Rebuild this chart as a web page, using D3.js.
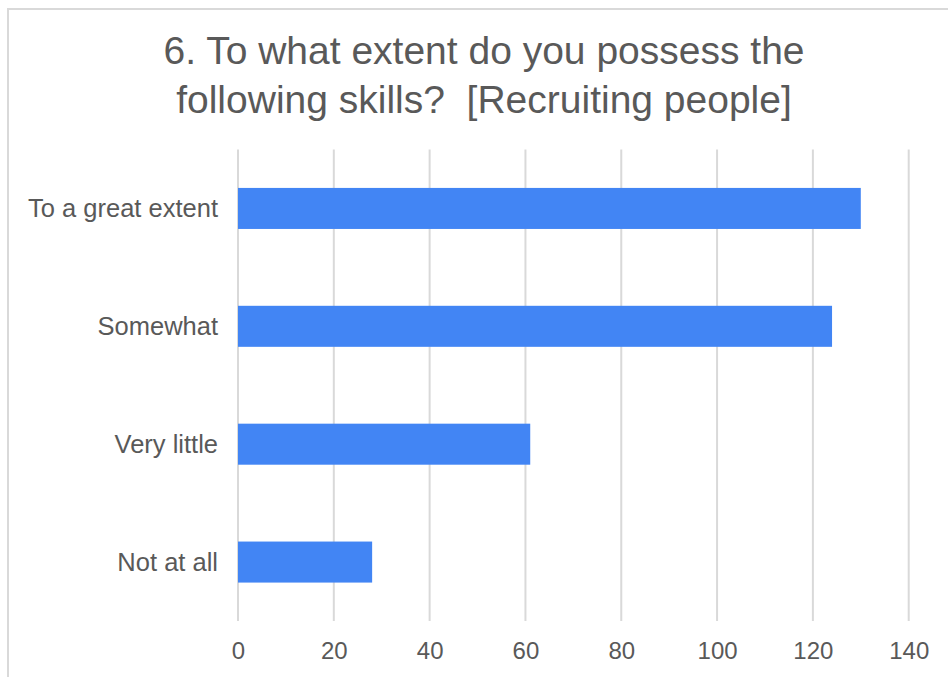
<!DOCTYPE html>
<html>
<head>
<meta charset="utf-8">
<script src="https://cdn.jsdelivr.net/npm/d3@7"></script>
<style>
  html, body { margin: 0; padding: 0; background: #fff; }
  svg { display: block; }
  text { font-family: "Liberation Sans", Arial, sans-serif; fill: #595959; }
</style>
</head>
<body>
<svg id="chart" width="948" height="677"></svg>
<script>
// Survey responses: self-assessed recruiting skill
const categories = ["To a great extent", "Somewhat", "Very little", "Not at all"];
const counts = [130, 124, 61, 28];
const xTicks = [0, 20, 40, 60, 80, 100, 120, 140];
const titleLines = ["6. To what extent do you possess the", "following skills?\u00a0 [Recruiting people]"];

const svg = d3.select("#chart");

// Card border (left and top edges visible)
svg.append("rect")
  .attr("x", 8).attr("y", 9)
  .attr("width", 960).attr("height", 700)
  .attr("fill", "#fff")
  .attr("stroke", "#d9d9d9")
  .attr("stroke-width", 2);

// Title
const title = svg.append("text")
  .attr("text-anchor", "middle")
  .style("font-size", "39px");
titleLines.forEach((line, i) => {
  title.append("tspan")
    .attr("x", 484)
    .attr("y", 64 + i * 49)
    .text(line);
});

const plot = { left: 238, right: 908.7, top: 149.5, bottom: 621 };

const x = d3.scaleLinear()
  .domain([0, 140])
  .range([plot.left, plot.right]);

const y = d3.scaleBand()
  .domain(categories)
  .range([plot.top, plot.bottom])
  .paddingInner(0.652)
  .paddingOuter(0.326);

// Vertical gridlines
svg.append("g")
  .selectAll("line")
  .data(xTicks)
  .join("line")
  .attr("x1", d => x(d)).attr("x2", d => x(d))
  .attr("y1", plot.top).attr("y2", plot.bottom)
  .attr("stroke", "#d9d9d9")
  .attr("stroke-width", 2);

// Bars
svg.append("g")
  .selectAll("rect")
  .data(categories.map((c, i) => ({ c, v: counts[i] })))
  .join("rect")
  .attr("x", x(0))
  .attr("y", d => y(d.c))
  .attr("width", d => x(d.v) - x(0))
  .attr("height", y.bandwidth())
  .attr("fill", "#4285f4");

// X axis tick labels
const xAxis = d3.axisBottom(x).tickValues(xTicks).tickSize(0).tickPadding(0);
const gx = svg.append("g")
  .attr("transform", `translate(0, ${plot.bottom})`)
  .call(xAxis);
gx.select(".domain").remove();
gx.selectAll("text")
  .attr("y", 38)
  .attr("dy", 0)
  .style("font-size", "24px")
  .style("font-family", "'Liberation Sans', Arial, sans-serif")
  .attr("fill", "#595959");

// Y axis category labels
const yAxis = d3.axisLeft(y).tickSize(0).tickPadding(20);
const gy = svg.append("g")
  .attr("transform", `translate(${plot.left}, 0)`)
  .call(yAxis);
gy.select(".domain").remove();
gy.selectAll("text")
  .attr("dy", "0.35em")
  .style("font-size", "25.5px")
  .style("font-family", "'Liberation Sans', Arial, sans-serif")
  .attr("fill", "#595959");
</script>
</body>
</html>
